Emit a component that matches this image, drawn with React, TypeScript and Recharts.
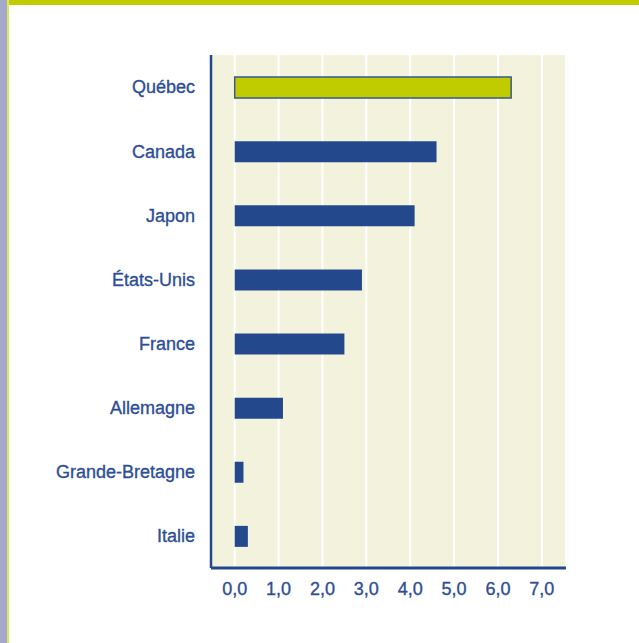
import { BarChart, Bar, XAxis, YAxis, CartesianGrid, Cell } from "recharts";

const countries = [
  "Québec",
  "Canada",
  "Japon",
  "États-Unis",
  "France",
  "Allemagne",
  "Grande-Bretagne",
  "Italie",
];
const values = [6.3, 4.6, 4.1, 2.9, 2.5, 1.1, 0.2, 0.3];
const xTicks = [0, 1, 2, 3, 4, 5, 6, 7];

const data = countries.map((name, i) => ({ name, value: values[i] }));

const blue = "#23488b";
const textBlue = "#2d4e95";
const lime = "#c0cc00";
const font = "'Liberation Sans', Arial, sans-serif";

const tickStyle = {
  fill: textBlue,
  stroke: textBlue,
  strokeWidth: 0.35,
  fontSize: 18,
  fontFamily: font,
};

export default function App() {
  return (
    <div
      style={{
        position: "absolute",
        left: 0,
        top: 0,
        width: 639,
        height: 643,
        background: "#fff",
        overflow: "hidden",
      }}
    >
      <div style={{ position: "absolute", left: 0, top: 0, width: 639, height: 5, background: lime }} />
      <div style={{ position: "absolute", left: 0, top: 0, width: 7, height: 643, background: "#a4a9cc" }} />
      <div style={{ position: "absolute", left: 7, top: 0, width: 2, height: 643, background: "#dde455" }} />
      <BarChart
        width={639}
        height={643}
        data={data}
        layout="vertical"
        margin={{ top: 55, right: 73, bottom: 45, left: 0 }}
        barCategoryGap={0}
        style={{ position: "absolute", left: 0, top: 0 }}
      >
        <CartesianGrid
          horizontal={false}
          stroke="#ffffff"
          strokeWidth={2}
          fill="#f3f2dc"
        />
        <XAxis
          type="number"
          domain={[-0.54, 7.55]}
          ticks={xTicks}
          allowDataOverflow
          tickFormatter={(v: number) => v.toFixed(1).replace(".", ",")}
          tickLine={false}
          tickSize={0}
          tickMargin={14}
          height={30}
          axisLine={{ stroke: blue, strokeWidth: 3 }}
          tick={tickStyle}
        />
        <YAxis
          type="category"
          dataKey="name"
          width={211}
          tickLine={false}
          tickSize={0}
          tickMargin={16}
          axisLine={{ stroke: blue, strokeWidth: 2.5 }}
          tick={tickStyle}
        />
        <Bar dataKey="value" barSize={21} fill={blue} isAnimationActive={false}>
          {data.map((d, i) => (
            <Cell
              key={d.name}
              fill={i === 0 ? lime : blue}
              stroke={i === 0 ? "#3a5a8a" : "none"}
              strokeWidth={i === 0 ? 1.5 : 0}
            />
          ))}
        </Bar>
      </BarChart>
    </div>
  );
}
